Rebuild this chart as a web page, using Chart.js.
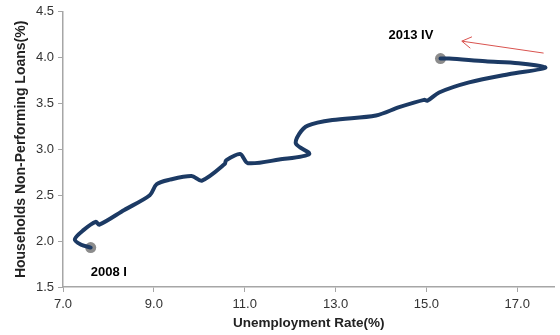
<!DOCTYPE html>
<html>
<head>
<meta charset="utf-8">
<script src="https://cdn.jsdelivr.net/npm/chart.js@4/dist/chart.umd.min.js"></script>
<style>
  html, body { margin: 0; padding: 0; background: #fff; }
  #wrap { width: 560px; height: 335px; }
</style>
</head>
<body>
<div id="wrap"><canvas id="chart"></canvas></div>
<script>
// unemployment rate (%) vs households NPL ratio (%), 2008 I .. 2013 IV
const unemployment = [7.61, 7.40, 7.26, 7.45, 7.72, 7.80, 8.35, 8.91, 9.06, 9.35, 9.83, 10.06, 10.56, 10.59, 10.90, 11.07,
  11.76, 12.42, 12.13, 12.20, 12.39, 12.93, 13.89, 14.40, 14.95, 15.02, 15.28, 15.94, 16.81, 17.62, 17.03, 16.30, 15.50, 15.31];
const npl = [1.93, 1.96, 2.02, 2.12, 2.21, 2.18, 2.34, 2.50, 2.62, 2.67, 2.71, 2.66, 2.84, 2.88, 2.95, 2.85,
  2.89, 2.95, 3.06, 3.17, 3.26, 3.32, 3.37, 3.46, 3.54, 3.53, 3.62, 3.73, 3.82, 3.89, 3.94, 3.96, 3.99, 3.99];

const markerLabels = ["2008 I", "2013 IV"];
const markerX = [7.61, 15.31];
const markerY = [1.93, 3.99];
const labelX = [8.01, 14.66];
const labelY = [1.66, 4.24];

// arrow: tail -> tip
const arrowX = [17.58, 15.78];
const arrowY = [4.05, 4.18];

const xTicks = [7, 9, 11, 13, 15, 17];
const yTicks = [1.5, 2.0, 2.5, 3.0, 3.5, 4.0, 4.5];

const notes = {
  id: "notes",
  afterDatasetsDraw(chart) {
    const { ctx, scales: { x, y } } = chart;
    ctx.save();
    ctx.font = "bold 13px 'Liberation Sans', Arial, sans-serif";
    ctx.fillStyle = "#000";
    ctx.textAlign = "center";
    ctx.textBaseline = "middle";
    markerLabels.forEach((t, i) => ctx.fillText(t, x.getPixelForValue(labelX[i]), y.getPixelForValue(labelY[i])));

    const x0 = x.getPixelForValue(arrowX[0]), y0 = y.getPixelForValue(arrowY[0]);
    const x1 = x.getPixelForValue(arrowX[1]), y1 = y.getPixelForValue(arrowY[1]);
    const ang = Math.atan2(y1 - y0, x1 - x0);
    ctx.strokeStyle = "#d9534f";
    ctx.lineWidth = 1;
    ctx.beginPath();
    ctx.moveTo(x0, y0);
    ctx.lineTo(x1, y1);
    for (const d of [-0.55, 0.55]) {
      ctx.moveTo(x1, y1);
      ctx.lineTo(x1 - 11 * Math.cos(ang + d), y1 - 11 * Math.sin(ang + d));
    }
    ctx.stroke();
    ctx.restore();
  }
};

const tickFont = { family: "'Liberation Sans', Arial, sans-serif", size: 13 };
const titleFont = { family: "'Liberation Sans', Arial, sans-serif", size: 13.5, weight: "bold" };

new Chart(document.getElementById("chart"), {
  type: "scatter",
  data: {
    datasets: [
      {
        data: unemployment.map((v, i) => ({ x: v, y: npl[i] })),
        showLine: true,
        borderColor: "#1c3a64",
        borderWidth: 4,
        tension: 0.3,
        pointRadius: 0,
        borderCapStyle: "round",
        borderJoinStyle: "round",
      },
      {
        data: markerX.map((v, i) => ({ x: v, y: markerY[i] })),
        pointRadius: 5.5,
        pointBackgroundColor: "#8c8c8c",
        pointBorderWidth: 0,
      },
    ],
  },
  options: {
    responsive: true,
    maintainAspectRatio: false,
    animation: false,
    layout: { padding: { top: 11, right: 0, left: 0, bottom: 0 } },
    plugins: { legend: { display: false }, tooltip: { enabled: false } },
    scales: {
      x: {
        type: "linear",
        min: 7, max: 17.82,
        afterBuildTicks: s => { s.ticks = xTicks.map(v => ({ value: v })); },
        afterFit: s => { s.height = 48; },
        grid: { drawOnChartArea: false, color: "#a6a6a6", tickLength: 5 },
        border: { color: "#a6a6a6", width: 1.5 },
        ticks: { font: tickFont, color: "#333", padding: 5, callback: v => v.toFixed(1) },
        title: { display: true, text: "Unemployment Rate(%)", font: titleFont, color: "#222", padding: { top: 0 } },
      },
      y: {
        min: 1.5, max: 4.5,
        afterBuildTicks: s => { s.ticks = yTicks.map(v => ({ value: v })); },
        afterFit: s => { s.width = 63; },
        grid: { drawOnChartArea: false, color: "#a6a6a6", tickLength: 5 },
        border: { color: "#a6a6a6", width: 1.5 },
        ticks: { font: tickFont, color: "#333", padding: 4, callback: v => v.toFixed(1) },
        title: { display: true, text: "Households Non-Performing Loans(%)", font: { ...titleFont, size: 14 }, color: "#222", padding: { top: 13, bottom: 0 } },
      },
    },
  },
  plugins: [notes],
});
</script>
</body>
</html>
